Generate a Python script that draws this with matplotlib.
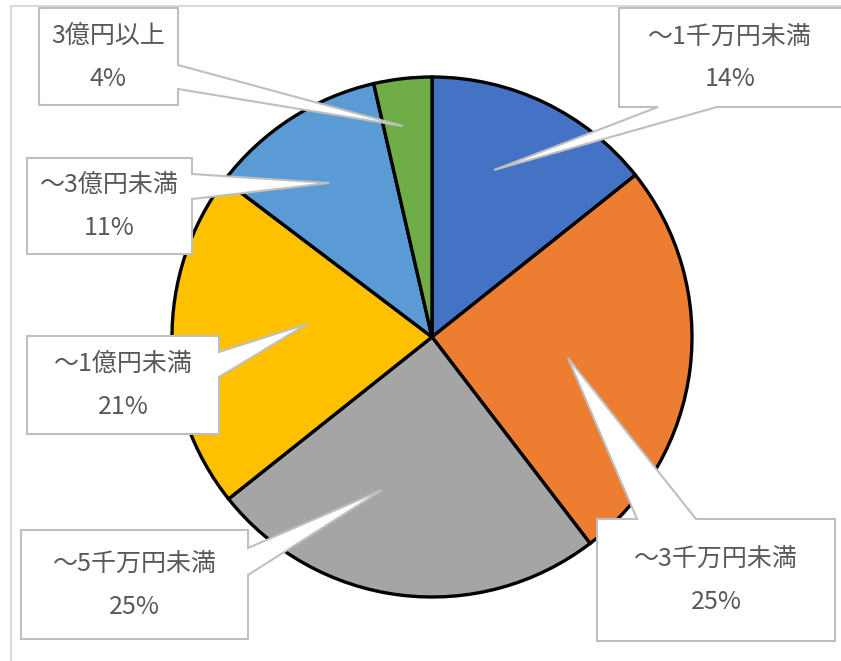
import matplotlib.pyplot as plt
from matplotlib.patches import Polygon, Rectangle

plt.rcParams['font.family'] = ['Noto Sans CJK JP', 'DejaVu Sans']

# data (clockwise from top)
labels = ['～1千万円未満', '～3千万円未満', '～5千万円未満', '～1億円未満', '～3億円未満', '3億円以上']
# slice sizes as read from the wedges, and the percentages printed in the labels
values = [14.3, 25.3, 24.7, 21.0, 11.1, 3.6]
pct_labels = ['14%', '25%', '25%', '21%', '11%', '4%']
colors = ['#4472C4', '#ED7D31', '#A5A5A5', '#FFC000', '#5B9BD5', '#70AD47']

W, H = 841, 661

# callout layout in pixel coords: box (x0, y0, x1, y1), side, attach span, tip
callouts = [
    ((619, 8, 845, 107), 'bottom', (658, 717), (494, 170)),
    ((597, 519, 835, 641), 'top', (637, 696), (568, 358)),
    ((21, 530, 248, 639), 'right', (548, 575), (382, 490)),
    ((27, 336, 219, 434), 'right', (352, 377), (307, 324)),
    ((27, 158, 192, 254), 'right', (174, 199), (329, 183)),
    ((39, 8, 178, 105), 'right', (65, 89), (403, 126)),
]


def fy(y):
    return H - y


def callout_poly(box, side, span, tip):
    x0, y0, x1, y1 = box
    a, b = span
    if side == 'right':
        pts = [(x0, y0), (x1, y0), (x1, a), tip, (x1, b), (x1, y1), (x0, y1)]
    elif side == 'bottom':
        pts = [(x0, y0), (x1, y0), (x1, y1), (b, y1), tip, (a, y1), (x0, y1)]
    else:  # top
        pts = [(x0, y0), (a, y0), tip, (b, y0), (x1, y0), (x1, y1), (x0, y1)]
    return [(x, fy(y)) for x, y in pts]


fig = plt.figure(figsize=(W / 100, H / 100), dpi=100)
ax = fig.add_axes([0, 0, 1, 1])
ax.set_xlim(0, W)
ax.set_ylim(0, H)
ax.axis('off')

# chart area border
ax.add_patch(Rectangle((11, -20), W + 20, fy(6) + 20, fill=False,
                       edgecolor='#D9D9D9', lw=1.5))

ax.pie(values, colors=colors, startangle=90, counterclock=False,
       center=(432, fy(337)), radius=260,
       wedgeprops=dict(edgecolor='black', linewidth=2.4))
ax.set_xlim(0, W)
ax.set_ylim(0, H)
ax.set_aspect('equal')

for lab, pct, (box, side, span, tip) in zip(labels, pct_labels, callouts):
    ax.add_patch(Polygon(callout_poly(box, side, span, tip), closed=True,
                         facecolor='white', edgecolor='#BFBFBF', lw=1.5,
                         joinstyle='miter', zorder=5))
    x0, y0, x1, y1 = box
    cx = (x0 + min(x1, W)) / 2
    cy = (y0 + y1) / 2
    ax.text(cx, fy(cy - 21), lab, ha='center', va='center',
            fontsize=18, color='#595959', zorder=6)
    ax.text(cx, fy(cy + 22), pct, ha='center', va='center',
            fontsize=18, color='#595959', zorder=6)

fig.savefig('out.png', dpi=100)
